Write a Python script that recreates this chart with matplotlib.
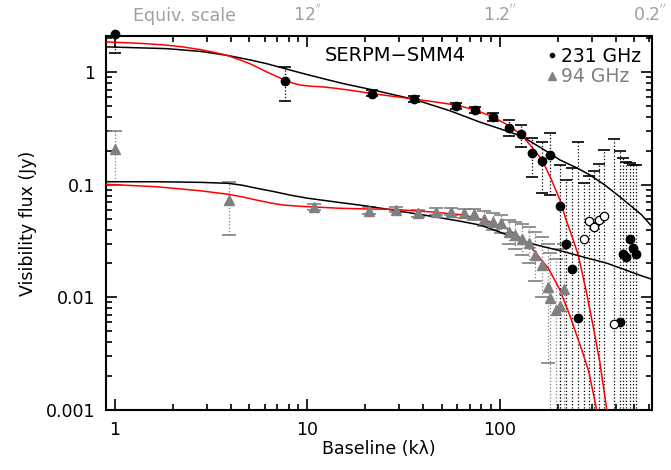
import matplotlib
matplotlib.use("Agg")
import matplotlib.pyplot as plt
import matplotlib.transforms as mtransforms
from matplotlib.lines import Line2D
import numpy as np

# 231 GHz visibilities (filled circles)
x231 = [1.0, 7.67, 21.6, 36.0, 59.3, 74.4, 92.6, 111.7, 129, 146.6, 166, 182.5,
        205.7, 221, 236.7, 256, 422, 435, 453, 475, 491, 509]
y231 = [2.17, 0.837, 0.647, 0.573, 0.50, 0.46, 0.40, 0.322, 0.28, 0.19, 0.163, 0.183,
        0.0647, 0.0297, 0.0177, 0.00654, 0.00598, 0.0245, 0.0226, 0.0330, 0.0273, 0.0241]
up231 = [2.87, 1.11, 0.69, 0.61, 0.535, 0.49, 0.43, 0.375, 0.338, 0.258, 0.241, 0.286,
         0.150, 0.110, 0.140, 0.24, 0.20, 0.173, 0.16, 0.155, 0.15, 0.15]
lo231 = [1.47, 0.556, 0.61, 0.54, 0.47, 0.43, 0.37, 0.27, 0.218, 0.118, 0.084, 0.081,
         1e-5, 1e-5, 1e-5, 1e-5, 1e-5, 1e-5, 1e-5, 1e-5, 1e-5, 1e-5]

# 231 GHz visibilities (open circles)
x231o = [275, 292, 310, 329, 349, 394]
y231o = [0.0328, 0.048, 0.0424, 0.049, 0.0527, 0.00581]
up231o = [0.104, 0.12, 0.133, 0.152, 0.203, 0.254]
lo231o = [1e-5, 1e-5, 1e-5, 1e-5, 1e-5, 1e-5]

# 94 GHz visibilities (triangles)
x94 = [1.0, 3.9, 10.8, 20.9, 28.8, 37.5, 46.7, 55.9, 65.5, 73.8, 83.2, 92.6,
       101.6, 112, 120, 130, 142.6, 152.5, 165, 177.5, 182.5, 196, 206, 217]
y94 = [0.206, 0.073, 0.0638, 0.0585, 0.0595, 0.0558, 0.0575, 0.0575, 0.0558, 0.0548,
       0.050, 0.047, 0.0454, 0.0384, 0.0358, 0.0328, 0.0306, 0.0237, 0.0194, 0.0123,
       0.0099, 0.0077, 0.0083, 0.0118]
up94 = [0.30, 0.106, 0.068, 0.063, 0.063, 0.060, 0.062, 0.062, 0.061, 0.061, 0.058,
        0.056, 0.054, 0.049, 0.047, 0.045, 0.042, 0.038, 0.034, 0.030, 0.025, 0.022,
        0.027, 0.030]
lo94 = [0.10, 0.0356, 0.060, 0.055, 0.057, 0.052, 0.054, 0.054, 0.051, 0.049, 0.043,
        0.040, 0.037, 0.030, 0.027, 0.024, 0.020, 0.014, 0.0101, 0.0026, 1e-5, 1e-5,
        1e-5, 1e-5]

# model curves
mx231_pl = [0.9, 1.86, 2.8, 3.81, 5.0, 6.16, 7.6, 9.17, 12, 15.5, 21.6, 36, 55, 79,
            100, 130, 166, 205.7, 250, 294.6, 350, 420, 480, 547, 615]
my231_pl = [1.68, 1.62, 1.53, 1.415, 1.29, 1.19, 1.08, 0.99, 0.88, 0.79, 0.70, 0.573,
            0.455, 0.36, 0.315, 0.27, 0.21, 0.166, 0.142, 0.122, 0.10, 0.0784, 0.065,
            0.0539, 0.043]
mx231_rd = [0.9, 1.4, 1.86, 2.3, 2.77, 3.3, 3.81, 4.4, 5.04, 5.6, 6.16, 6.9, 7.67,
            8.4, 9.17, 10.5, 12.1, 14, 16.7, 21.6, 28, 36, 46, 59.5, 70, 79, 92.6,
            113, 130, 146.6, 166, 186, 205.7, 221, 240, 256, 283, 306, 332, 360]
my231_rd = [1.86, 1.80, 1.74, 1.67, 1.59, 1.50, 1.415, 1.30, 1.19, 1.09, 1.006, 0.92,
            0.85, 0.80, 0.77, 0.75, 0.74, 0.72, 0.692, 0.647, 0.61, 0.576, 0.545, 0.51,
            0.475, 0.444, 0.40, 0.331, 0.276, 0.217, 0.166, 0.110, 0.073, 0.049, 0.033,
            0.0237, 0.0108, 0.0055, 0.00259, 0.001]
mx94_pl = [0.9, 1.65, 2.8, 3.89, 4.6, 5.47, 6.7, 8.13, 10, 14.8, 20, 28, 43.4, 60, 79,
           100, 127, 160, 214, 280, 360, 450, 547, 615]
my94_pl = [0.1064, 0.1064, 0.105, 0.103, 0.099, 0.093, 0.087, 0.081, 0.076, 0.0695,
           0.065, 0.0595, 0.0527, 0.048, 0.0439, 0.038, 0.0322, 0.0288, 0.0255, 0.0225,
           0.0201, 0.0175, 0.0155, 0.0145]
mx94_rd = [0.9, 1.65, 2.77, 3.89, 4.6, 5.47, 6.4, 7.52, 9, 10.8, 14.8, 20, 28, 43.4,
           64.7, 85.5, 108.7, 127, 149.5, 179, 205.7, 232, 267, 290, 319]
my94_rd = [0.101, 0.096, 0.0885, 0.0823, 0.078, 0.073, 0.069, 0.066, 0.0645, 0.0635,
           0.0618, 0.061, 0.0605, 0.0575, 0.0539, 0.048, 0.041, 0.0341, 0.0263, 0.0181,
           0.0116, 0.0068, 0.0034, 0.0022, 0.001]

top_ticks = [10, 100, 600]
top_labels = ["12$^{''}$", "1.2$^{''}$", "0.2$^{''}$"]

GREY = "#808080"
LGREY = "#a0a0a0"


def errbars(ax, x, y, up, lo, color, capsize, zorder):
    y = np.array(y)
    err = [y - np.array(lo), np.array(up) - y]
    eb = ax.errorbar(x, y, yerr=err, fmt="none", ecolor=color, elinewidth=0.9,
                     capsize=capsize, capthick=1.2, zorder=zorder)
    eb[2][0].set_linestyle(":")


def main() -> None:
    plt.rcParams["font.family"] = "DejaVu Sans"
    fig = plt.figure(figsize=(6.71, 4.70), dpi=100)
    ax = fig.add_axes([0.158, 0.128, 0.813, 0.795])
    ax.set_xscale("log")
    ax.set_yscale("log")

    errbars(ax, x94, y94, up94, lo94, GREY, 5, 2)
    errbars(ax, x231, y231, up231, lo231, "black", 4, 3)
    errbars(ax, x231o, y231o, up231o, lo231o, "black", 4, 3)

    ax.plot(mx231_pl, my231_pl, color="black", lw=1.1, zorder=4)
    ax.plot(mx231_rd, my231_rd, color="red", lw=1.1, zorder=4)
    ax.plot(mx94_pl, my94_pl, color="black", lw=1.1, zorder=4)
    ax.plot(mx94_rd, my94_rd, color="red", lw=1.1, zorder=4)

    ax.plot(x94, y94, "^", color=GREY, ms=6.5, mec=GREY, zorder=5, clip_on=False)
    ax.plot(x231, y231, "o", color="black", ms=6, zorder=5, clip_on=False)
    ax.plot(x231o, y231o, "o", mfc="white", mec="black", mew=0.9, ms=6, zorder=5)

    ax.set_xlim(0.9, 615)
    ax.set_ylim(0.001, 2.09)
    ax.set_xticks([1, 10, 100])
    ax.set_xticklabels(["1", "10", "100"])
    ax.set_yticks([0.001, 0.01, 0.1, 1])
    ax.set_yticklabels(["0.001", "0.01", "0.1", "1"])
    ax.tick_params(which="both", direction="in", top=True, right=True,
                   labelsize=12.5, width=1.2)
    ax.tick_params(which="major", length=8, pad=8)
    ax.tick_params(which="minor", length=4)
    for sp in ax.spines.values():
        sp.set_linewidth(1.5)

    ax.set_xlabel("Baseline (k\u03bb)", fontsize=12.5, labelpad=1)
    ax.set_ylabel("Visibility flux (Jy)", fontsize=12.5, labelpad=6)

    trans = mtransforms.blended_transform_factory(ax.transData, ax.transAxes)
    for t, lab in zip(top_ticks, top_labels):
        ax.text(t, 1.03, lab, transform=trans, ha="center", va="bottom",
                color=LGREY, fontsize=12.5)
    ax.text(2.3, 1.03, "Equiv. scale", transform=trans, ha="center", va="bottom",
            color=LGREY, fontsize=12.5)

    ax.text(0.53, 0.975, "SERPM\u2212SMM4", transform=ax.transAxes, ha="center",
            va="top", fontsize=14)

    handles = [Line2D([], [], ls="none", marker="o", color="black", ms=3),
               Line2D([], [], ls="none", marker="^", color=GREY, ms=6)]
    leg = ax.legend(handles, ["231 GHz", "94 GHz"], loc="upper right",
                    frameon=False, fontsize=13.5, handlelength=0.6,
                    handletextpad=0.2, borderaxespad=0.15, labelspacing=0.1)
    leg.get_texts()[1].set_color(GREY)

    fig.savefig("out.png", dpi=100)


if __name__ == "__main__":
    main()
